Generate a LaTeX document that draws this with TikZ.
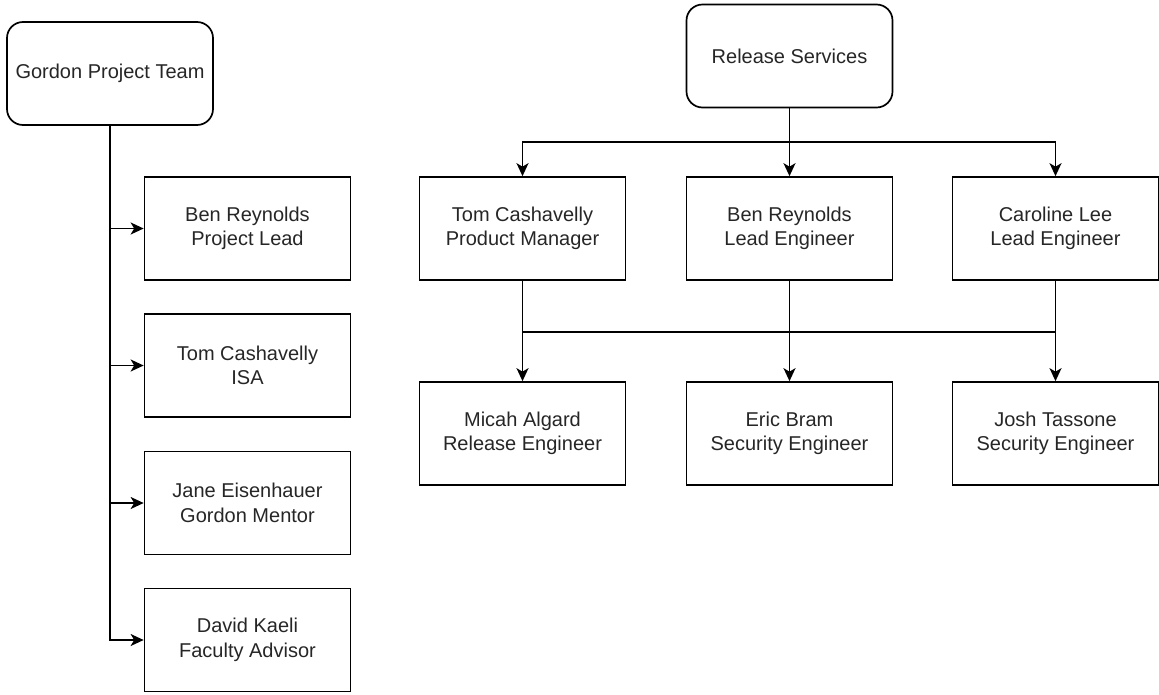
\documentclass[tikz,border=0pt]{standalone}
\usepackage{fontspec}
\setmainfont{Liberation Sans}
\usetikzlibrary{arrows.meta}
\begin{document}
\begin{tikzpicture}[x=1pt,y=-1pt,
  every node/.style={font=\fontsize{20}{24.5}\selectfont, text=black!85, align=center, inner sep=0pt},
  person/.style={draw, line width=1.7pt, minimum width=206pt, minimum height=103pt},
  head/.style={person, rounded corners=16pt},
  link/.style={line width=1.7pt},
  arrow/.style={link, -{Stealth[length=13pt,width=12pt,inset=3.5pt]}}]
\useasboundingbox (0,0) rectangle (1159,694);

% Gordon project team column
\node[head] (gpt) at (110,73.5) {Gordon Project Team};
\node[person] (g1) at (247.5,228.5) {Ben Reynolds\\Project Lead};
\node[person] (g2) at (247.5,365.5) {Tom Cashavelly\\ISA};
\node[person] (g3) at (247.5,503) {Jane Eisenhauer\\Gordon Mentor};
\node[person] (g4) at (247.5,640) {David Kaeli\\Faculty Advisor};

\foreach \n in {g1,g2,g3,g4}
  \draw[arrow] (gpt.south) |- (\n.west);

% Release services tree
\node[head] (rs) at (789.5,56) {Release Services};
\node[person] (m1) at (522.5,228.5) {Tom Cashavelly\\Product Manager};
\node[person] (m2) at (789.5,228.5) {Ben Reynolds\\Lead Engineer};
\node[person] (m3) at (1055.5,228.5) {Caroline Lee\\Lead Engineer};
\node[person] (b1) at (522.5,433.5) {Micah Algard\\Release Engineer};
\node[person] (b2) at (789.5,433.5) {Eric Bram\\Security Engineer};
\node[person] (b3) at (1055.5,433.5) {Josh Tassone\\Security Engineer};

\coordinate (topbus) at (789.5,142);
\coordinate (lowbus) at (789.5,332);

\draw[arrow] (rs.south) -- (m2.north);
\draw[arrow] (topbus) -| (m1.north);
\draw[arrow] (topbus) -| (m3.north);

\draw[link] (m1.south |- lowbus) -- (m3.south |- lowbus);
\draw[arrow] (m1.south) -- (b1.north);
\draw[arrow] (m2.south) -- (b2.north);
\draw[arrow] (m3.south) -- (b3.north);
\end{tikzpicture}
\end{document}
